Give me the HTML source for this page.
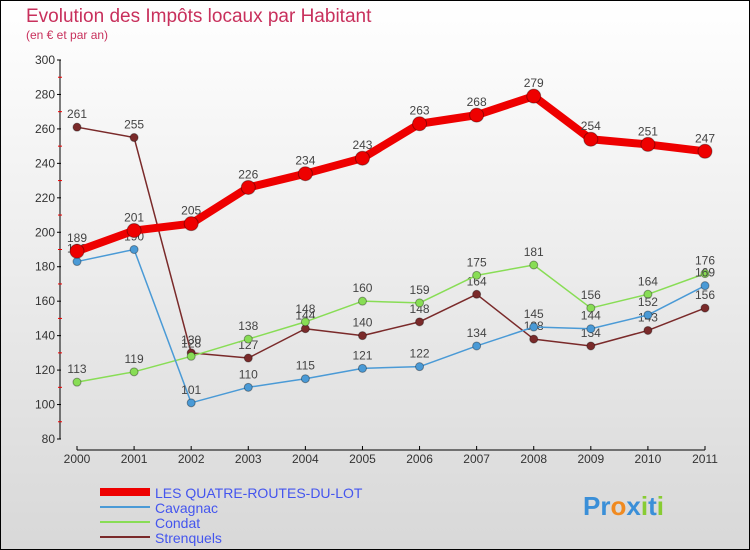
<!DOCTYPE html>
<html><head><meta charset="utf-8"><style>
body{margin:0;}
#c{width:750px;height:550px;position:relative;overflow:hidden;font-family:"Liberation Sans",sans-serif;}
</style></head><body>
<div id="c">
<svg id="s" width="750" height="550" xmlns="http://www.w3.org/2000/svg">
<defs><linearGradient id="bg" x1="0" y1="0" x2="0" y2="1"><stop offset="0" stop-color="#ffffff"/><stop offset="1" stop-color="#d8d8d8"/></linearGradient></defs>
<rect x="0.5" y="0.5" width="749" height="549" fill="url(#bg)" stroke="#000"/>
<text x="26" y="22" font-size="19" fill="#c8305c">Evolution des Impôts locaux par Habitant</text>
<text x="26" y="39" font-size="12" fill="#c8305c">(en € et par an)</text>
<g id="axes"></g><g id="series"></g>
<g>
<line x1="100" y1="492" x2="150" y2="492" stroke="#ee0000" stroke-width="8"/>
<text x="155" y="498" font-size="14" fill="#4455ee">LES QUATRE-ROUTES-DU-LOT</text>
<line x1="100" y1="507" x2="150" y2="507" stroke="#4a9ad6" stroke-width="2"/>
<text x="155" y="513" font-size="14" fill="#4455ee">Cavagnac</text>
<line x1="100" y1="522" x2="150" y2="522" stroke="#88dd55" stroke-width="2"/>
<text x="155" y="528" font-size="14" fill="#4455ee">Condat</text>
<line x1="100" y1="537" x2="150" y2="537" stroke="#7a2a2a" stroke-width="2"/>
<text x="155" y="543" font-size="14" fill="#4455ee">Strenquels</text>
</g>
<text x="583" y="515" font-size="26" font-weight="bold"><tspan fill="#3a8fd8">Pr</tspan><tspan fill="#f08a20">o</tspan><tspan fill="#3a8fd8">x</tspan><tspan fill="#88cc33">i</tspan><tspan fill="#3a8fd8">t</tspan><tspan fill="#88cc33">i</tspan></text>
</svg></div>
<script>
const years=[2000,2001,2002,2003,2004,2005,2006,2007,2008,2009,2010,2011];
const mainVals=[189,201,205,226,234,243,263,268,279,254,251,247];
const cavagnacVals=[183,190,101,110,115,121,122,134,145,144,152,169];
const condatVals=[113,119,128,138,148,160,159,175,181,156,164,176];
const strenquelsVals=[261,255,130,127,144,140,148,164,138,134,143,156];
const yTicks=[80,100,120,140,160,180,200,220,240,260,280,300];
const NS="http://www.w3.org/2000/svg";
function X(i){return 77+i*(705-77)/11;}
function Y(v){return 439-(v-80)*(439-60)/220;}
function mk(t,a,p){const e=document.createElementNS(NS,t);for(const k in a)e.setAttribute(k,a[k]);p.appendChild(e);return e;}
const ax=document.getElementById('axes');
const yl=mk('line',{x1:60,y1:Y(300),x2:60,y2:Y(80),stroke:'#000'},ax);


yTicks.forEach((v,k)=>{
 mk('line',{x1:57,y1:Y(v),x2:61,y2:Y(v),stroke:'#000'},ax);
 if(k<yTicks.length-1) mk('line',{x1:58,y1:Y(v+10),x2:62,y2:Y(v+10),stroke:'#e00'},ax);
 const t=mk('text',{x:55,y:Y(v)+4,'font-size':12,fill:'#333','text-anchor':'end'},ax);
 t.textContent=v;
 
 
});
const xl=mk('line',{x1:X(0),y1:450,x2:X(years.length-1),y2:450,stroke:'#000'},ax);


years.forEach((y,i)=>{
 mk('line',{x1:X(i),y1:446,x2:X(i),y2:450,stroke:'#000'},ax);
 const t=mk('text',{x:X(i),y:463,'font-size':12,fill:'#333','text-anchor':'middle'},ax);
 t.textContent=y;
 
 
});
const sg=document.getElementById('series');
function draw(vals,color,w,r,name){
 const g=mk('g',{},sg);
 
 
 mk('polyline',{points:vals.map((v,i)=>X(i)+','+Y(v)).join(' '),fill:'none',stroke:color,'stroke-width':w,'stroke-linejoin':'round'},g);
 vals.forEach((v,i)=>{
  const c=mk('circle',{cx:X(i),cy:Y(v),r:r,fill:color,stroke:'rgba(0,0,0,0.35)'},g);
  
  
  const t=mk('text',{x:X(i),y:Y(v)-9,'font-size':12,fill:'#444','text-anchor':'middle'},g);
  t.textContent=v;
  
  
 });
}
draw(strenquelsVals,'#7a2a2a',1.5,4,'series-strenquels');
draw(condatVals,'#88dd55',1.5,4,'series-condat');
draw(cavagnacVals,'#4a9ad6',1.5,4,'series-cavagnac');
draw(mainVals,'#ee0000',8,7,'series-quatre-routes');
</script>
</body></html>
